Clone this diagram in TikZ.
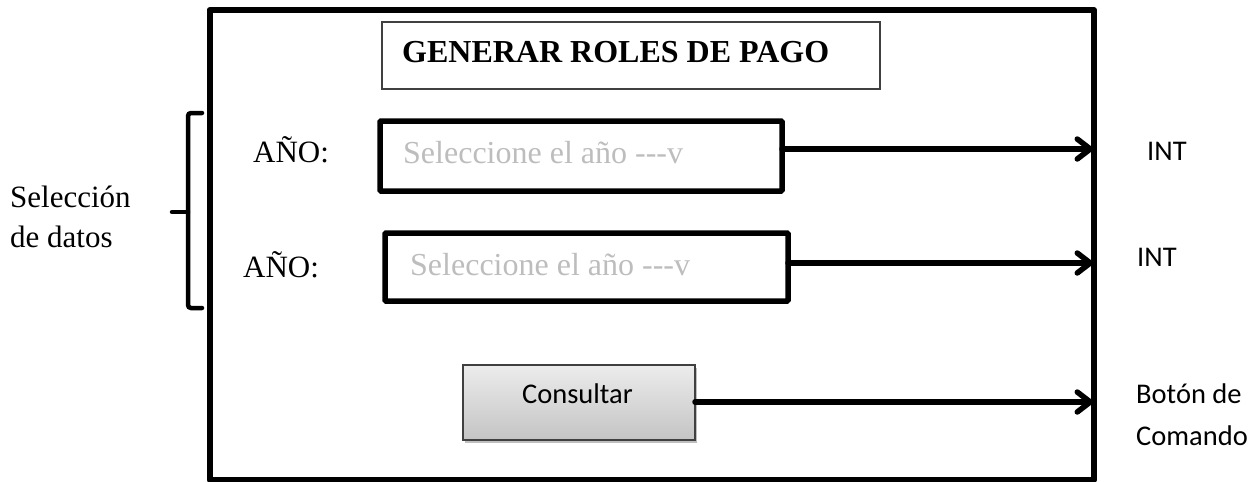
\documentclass[tikz,border=0pt]{standalone}
\usepackage{fontspec}
\setmainfont{Liberation Serif}
\newfontfamily\calibri{Carlito}
\usetikzlibrary{arrows.meta,shadows}
\definecolor{phgrey}{HTML}{BDBDBD}
\definecolor{btntop}{HTML}{ECECEC}
\definecolor{btnbot}{HTML}{C4C4C4}
\definecolor{edgegrey}{HTML}{404040}
\newcommand{\dashes}{-\kern0pt-\kern0pt-}
\tikzset{
  frame/.style={draw=black, line width=6pt, inner sep=0pt, outer sep=0pt, line join=round},
  fieldbox/.style={draw=black, line width=5.5pt, inner sep=0pt, outer sep=0pt, rounded corners=1pt},
  titlebox/.style={draw=edgegrey, line width=1.3pt, inner sep=0pt, outer sep=0pt},
  btn/.style={draw=edgegrey, line width=1.2pt, inner sep=0pt, outer sep=0pt,
     top color=btntop, bottom color=btnbot,
     drop shadow={shadow xshift=2pt, shadow yshift=-3pt, fill=black, opacity=0.25}},
  serif/.style={font=\fontsize{31}{36}\selectfont, inner sep=0pt, anchor=base west},
  titletxt/.style={font=\fontsize{32}{38}\selectfont\bfseries, inner sep=0pt, anchor=base west},
  placeholder/.style={font=\fontsize{32}{38}\selectfont, text=phgrey, inner sep=0pt, anchor=base west},
  sans/.style={font=\calibri\fontsize{28.5}{34}\selectfont, inner sep=0pt, anchor=base west},
  link/.style={line width=5.5pt, line cap=round, -{Straight Barb[length=13pt, width=20pt, line cap=round, line join=round]}},
  bracket/.style={line width=4.5pt, line cap=round, rounded corners=3pt}
}
\begin{document}
\begin{tikzpicture}[x=1pt, y=-1pt]
\useasboundingbox (0,0) rectangle (1256,482);
% main frame
\node[frame, minimum width=884.5pt, minimum height=469.5pt] (main) at (651.75,244.75) {};
% title
\node[titlebox, minimum width=498pt, minimum height=67pt] (tbox) at (631,55.5) {};
\node[titletxt] (title) at (402,62) {GENERAR ROLES DE PAGO};
% first field
\node[serif] (ano1) at (253,162) {AÑO:};
\node[fieldbox, minimum width=402pt, minimum height=70pt] (f1) at (581,156) {};
\node[placeholder] (p1) at (403,163) {Seleccione el año \dashes v};
% second field
\node[serif] (ano2) at (243,277) {AÑO:};
\node[fieldbox, minimum width=403pt, minimum height=68pt] (f2) at (586.5,267) {};
\node[placeholder] (p2) at (410,275) {Seleccione el año \dashes v};
% button
\node[btn, minimum width=232pt, minimum height=75pt] (b) at (579,402.5) {};
\node[sans, anchor=base] (btxt) at (577.5,403) {Consultar};
% arrows
\coordinate (e1) at (1093,149);
\coordinate (e2) at (1093,263);
\coordinate (e3) at (1093,402);
\draw[link] (f1.east |- e1) -- (e1);
\draw[link] (f2.east |- e2) -- (e2);
\draw[link] (b.east |- e3) -- (e3);
% right labels
\node[sans] (int1) at (1147,160) {INT};
\node[sans] (int2) at (1137,266) {INT};
\node[sans] (bot1) at (1136,403) {Botón de};
\node[sans] (bot2) at (1136,445) {Comando};
% bracket
\coordinate (bt) at (202,113);
\coordinate (bb) at (202,308);
\coordinate (bm) at (188,212);
\coordinate (bl) at (172,212);
\draw[bracket] (bt) -- (188,113) -- (188,308) -- (bb);
\draw[line width=4.5pt, line cap=round] (bm) -- (bl);
\node[serif] (sel1) at (10,207) {Selección};
\node[serif] (sel2) at (10,247) {de datos};
\end{tikzpicture}
\end{document}
